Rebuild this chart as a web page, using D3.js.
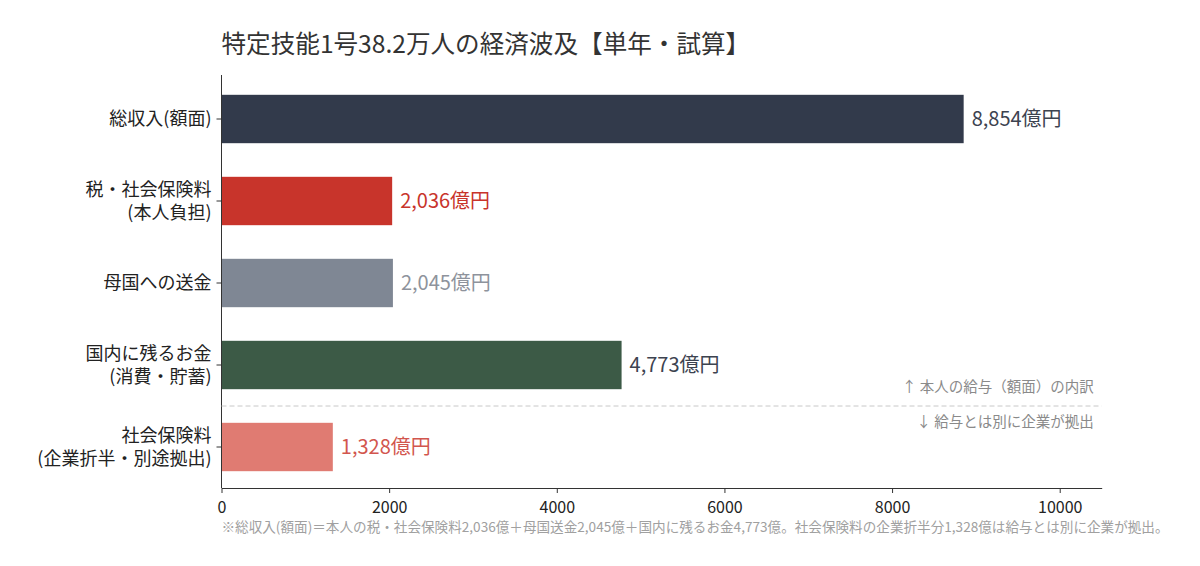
<!DOCTYPE html>
<html>
<head>
<meta charset="utf-8">
<script src="https://cdn.jsdelivr.net/npm/d3@7"></script>
<style>
  body { margin: 0; background: #fff; }
  svg { font-family: "Noto Sans CJK JP", "Noto Sans", sans-serif; }
</style>
</head>
<body>
<div id="chart"></div>
<script>
// data
const categories = ["総収入(額面)", "税・社会保険料\n(本人負担)", "母国への送金", "国内に残るお金\n(消費・貯蓄)", "社会保険料\n(企業折半・別途拠出)"];
const values = [8854, 2036, 2045, 4773, 1328];
const barColors = ["#323a4b", "#c8342b", "#7f8794", "#3c5a46", "#e07b72"];
const labelColors = ["#3d4350", "#c8342b", "#8e939c", "#3d4350", "#d2564e"];
const xTicks = [0, 2000, 4000, 6000, 8000, 10000];

const width = 1200, height = 566;
const margin = { left: 221.5, right: 98.3, top: 78, bottom: 78 };

const svg = d3.select("#chart").append("svg")
  .attr("width", width)
  .attr("height", height);

let x = d3.scaleLinear()
  .domain([0, d3.max(values) * 1.186])
  .range([margin.left, width - margin.right]);

let y = d3.scaleBand()
  .domain(categories)
  .range([margin.top, height - margin.bottom])
  .paddingInner(0.41)
  .paddingOuter(0.205);

// title
svg.append("text")
  .attr("x", margin.left)
  .attr("y", 53)
  .attr("font-size", 24.6)
  .attr("fill", "#333")
  .text("特定技能1号38.2万人の経済波及【単年・試算】");

/* ------------------ bars ------------------ */
svg.selectAll("rect.bar")
  .data(values)
  .enter()
  .append("rect")
  .attr("class", "bar")
  .attr("x", x(0))
  .attr("y", (d, i) => y(categories[i]))
  .attr("width", d => x(d) - x(0))
  .attr("height", y.bandwidth())
  .attr("fill", (d, i) => barColors[i]);

svg.selectAll("text.val")
  .data(values)
  .enter()
  .append("text")
  .attr("class", "val")
  .attr("x", d => x(d) + 8)
  .attr("y", (d, i) => y(categories[i]) + y.bandwidth() / 2)
  .attr("dy", "0.36em")
  .attr("font-size", 20)
  .attr("fill", (d, i) => labelColors[i])
  .text(d => d3.format(",")(d) + "億円");

/* ------------------ axes ------------------ */
const xAxis = svg.append("g")
  .attr("transform", `translate(0,${height - margin.bottom})`)
  .call(d3.axisBottom(x).tickValues(xTicks).tickFormat(d3.format("d")).tickSize(5).tickSizeOuter(0));
xAxis.select(".domain").attr("stroke", "#333");
xAxis.selectAll(".tick line").attr("stroke", "#333");
xAxis.selectAll(".tick text")
  .attr("font-size", 16)
  .attr("fill", "#222")
  .attr("y", 25)
  .attr("dy", 0)
  .attr("font-family", "\"Noto Sans CJK JP\", sans-serif");

const yAxis = svg.append("g")
  .attr("transform", `translate(${margin.left},0)`)
  .call(d3.axisLeft(y).tickSize(5).tickSizeOuter(0).tickFormat(""));
yAxis.select(".domain").attr("stroke", "#333")
  .attr("d", `M0,${margin.top - 3}V${height - margin.bottom}`);
yAxis.selectAll(".tick line").attr("stroke", "#333");

// category labels (multi-line)
categories.forEach(c => {
  const lines = c.split("\n");
  const cy = y(c) + y.bandwidth() / 2;
  lines.forEach((ln, j) => {
    svg.append("text")
      .attr("text-anchor", "end")
      .attr("font-size", 18)
      .attr("fill", "#222")
      .attr("x", margin.left - 10)
      .attr("y", cy + (j - (lines.length - 1) / 2) * 23)
      .attr("dy", "0.36em")
      .text(ln);
  });
});

/* ------------------ separator ------------------ */
const sepY = (y(categories[3]) + y.bandwidth() + y(categories[4])) / 2;
svg.append("line")
  .attr("x1", margin.left)
  .attr("x2", width - margin.right)
  .attr("y1", sepY)
  .attr("y2", sepY)
  .attr("stroke", "#c8c8c8")
  .attr("stroke-dasharray", "5,3");

svg.append("text")
  .attr("x", width - margin.right - 8)
  .attr("y", sepY - 14)
  .attr("text-anchor", "end")
  .attr("font-size", 14.5)
  .attr("fill", "#8a8a8a")
  .text("↑ 本人の給与（額面）の内訳");

svg.append("text")
  .attr("x", width - margin.right - 8)
  .attr("y", sepY + 21)
  .attr("text-anchor", "end")
  .attr("font-size", 14.5)
  .attr("fill", "#8a8a8a")
  .text("↓ 給与とは別に企業が拠出");

// footnote
svg.append("text")
  .attr("x", margin.left)
  .attr("y", 532)
  .attr("font-size", 13.6)
  .attr("fill", "#a0a0a0")
  .text("※総収入(額面)＝本人の税・社会保険料2,036億＋母国送金2,045億＋国内に残るお金4,773億。社会保険料の企業折半分1,328億は給与とは別に企業が拠出。");
</script>
</body>
</html>
